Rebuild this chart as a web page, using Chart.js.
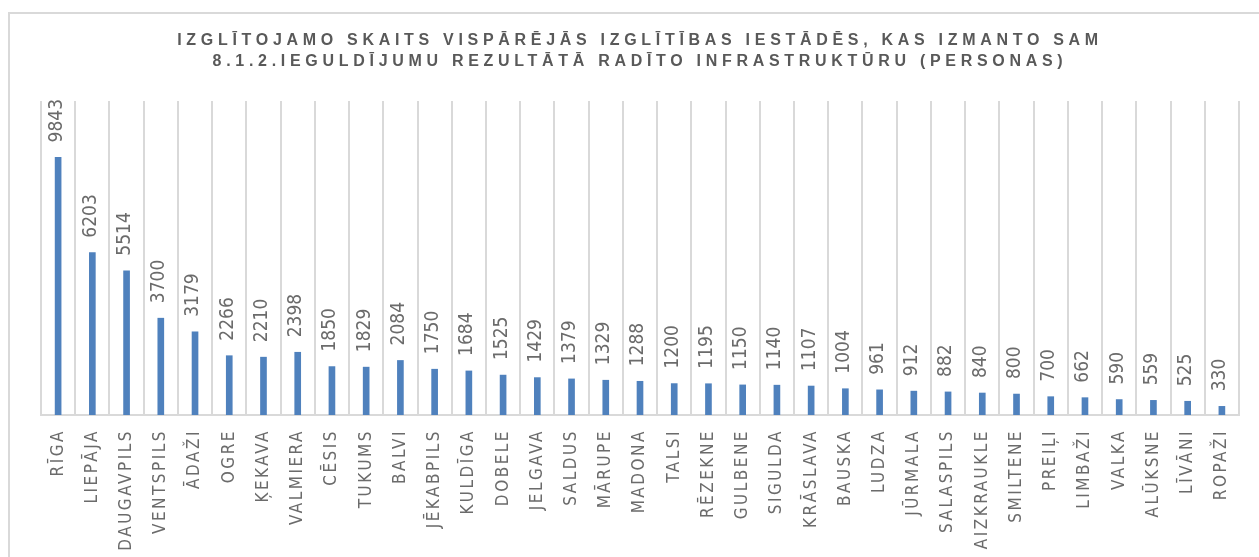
<!DOCTYPE html>
<html lang="lv">

<head>
  <meta charset="UTF-8">
  <title>Izglītojamo skaits</title>
  <script src="https://cdn.jsdelivr.net/npm/chart.js"></script>
  <style>
    html, body { margin: 0; padding: 0; background: #fff; overflow: hidden; }
    #frame {
      position: absolute; left: 8px; top: 12px; width: 1300px; height: 600px;
      border-left: 2px solid #d9d9d9; border-top: 2px solid #d9d9d9;
    }
    #wrap { position: absolute; left: 0; top: 0; width: 1259px; height: 557px; }
  </style>
</head>

<body>
  <div id="frame"></div>
  <div id="wrap"><canvas id="chart"></canvas></div>

  <script>
    // municipalities and pupil counts
    const municipalities = ['RĪGA', 'LIEPĀJA', 'DAUGAVPILS', 'VENTSPILS', 'ĀDAŽI', 'OGRE', 'ĶEKAVA', 'VALMIERA',
      'CĒSIS', 'TUKUMS', 'BALVI', 'JĒKABPILS', 'KULDĪGA', 'DOBELE', 'JELGAVA', 'SALDUS', 'MĀRUPE', 'MADONA',
      'TALSI', 'RĒZEKNE', 'GULBENE', 'SIGULDA', 'KRĀSLAVA', 'BAUSKA', 'LUDZA', 'JŪRMALA', 'SALASPILS',
      'AIZKRAUKLE', 'SMILTENE', 'PREIĻI', 'LIMBAŽI', 'VALKA', 'ALŪKSNE', 'LĪVĀNI', 'ROPAŽI'];
    const pupils = [9843, 6203, 5514, 3700, 3179, 2266, 2210, 2398, 1850, 1829, 2084, 1750, 1684, 1525, 1429,
      1379, 1329, 1288, 1200, 1195, 1150, 1140, 1107, 1004, 961, 912, 882, 840, 800, 700, 662, 590, 559, 525, 330];
    const titleLines = ['IZGLĪTOJAMO SKAITS VISPĀRĒJĀS IZGLĪTĪBAS IESTĀDĒS, KAS IZMANTO SAM',
      '8.1.2.IEGULDĪJUMU REZULTĀTĀ RADĪTO INFRASTRUKTŪRU (PERSONAS)'];
    const yMax = 12000;

    const textGray = '#595959';
    const labelGray = '#6b6b6b';
    const gridGray = '#d9d9d9';
    const narrow = "'Liberation Sans Narrow', 'DejaVu Sans Condensed', sans-serif";

    // spaced-out capitals: moderate for the axis labels, wider for the title
    const spacing = {
      id: 'spacing',
      afterInit(chart) {
        const block = chart.titleBlock;
        const draw = block.draw;
        block.draw = function (area) {
          const ctx = chart.ctx;
          ctx.save();
          ctx.letterSpacing = '4.7px';
          draw.call(this, area);
          ctx.restore();
        };
      },
      beforeDraw(chart) { chart.ctx.letterSpacing = '2.5px'; }
    };

    // vertical value labels above every bar
    const valueLabels = {
      id: 'valueLabels',
      afterDatasetsDraw(chart) {
        const ctx = chart.ctx;
        const meta = chart.getDatasetMeta(0);
        ctx.save();
        ctx.letterSpacing = '0px';
        ctx.font = '19px ' + narrow;
        ctx.fillStyle = labelGray;
        ctx.textAlign = 'left';
        ctx.textBaseline = 'middle';
        meta.data.forEach((bar, i) => {
          ctx.save();
          ctx.translate(bar.x - 1.5, bar.y - 15);
          ctx.rotate(-Math.PI / 2);
          ctx.fillText(String(pupils[i]), 0, 0);
          ctx.restore();
        });
        ctx.restore();
      }
    };

    new Chart(document.getElementById('chart'), {
      type: 'bar',
      data: {
        labels: municipalities,
        datasets: [{
          data: pupils,
          backgroundColor: '#4f81bd',
          barThickness: 6
        }]
      },
      options: {
        responsive: true,
        maintainAspectRatio: false,
        animation: false,
        layout: { padding: { left: 41, right: 20, top: 0, bottom: 0 } },
        plugins: {
          legend: { display: false },
          tooltip: { enabled: false },
          title: {
            display: true,
            text: titleLines,
            color: textGray,
            font: { family: "'Liberation Sans', Arial, sans-serif", size: 16, weight: 'bold', lineHeight: 1.3125 },
            padding: { top: 30, bottom: 29 }
          }
        },
        scales: {
          x: {
            offset: true,
            grid: { offset: true, color: gridGray, lineWidth: 2, drawTicks: false },
            border: { display: true, color: gridGray, width: 2 },
            ticks: {
              color: labelGray,
              font: { family: narrow, size: 17 },
              minRotation: 90,
              maxRotation: 90,
              autoSkip: false,
              padding: 14
            },
            afterFit(scale) { scale.height = 142; }
          },
          y: {
            display: false,
            min: 0,
            max: yMax
          }
        }
      },
      plugins: [spacing, valueLabels]
    });
  </script>
</body>

</html>
